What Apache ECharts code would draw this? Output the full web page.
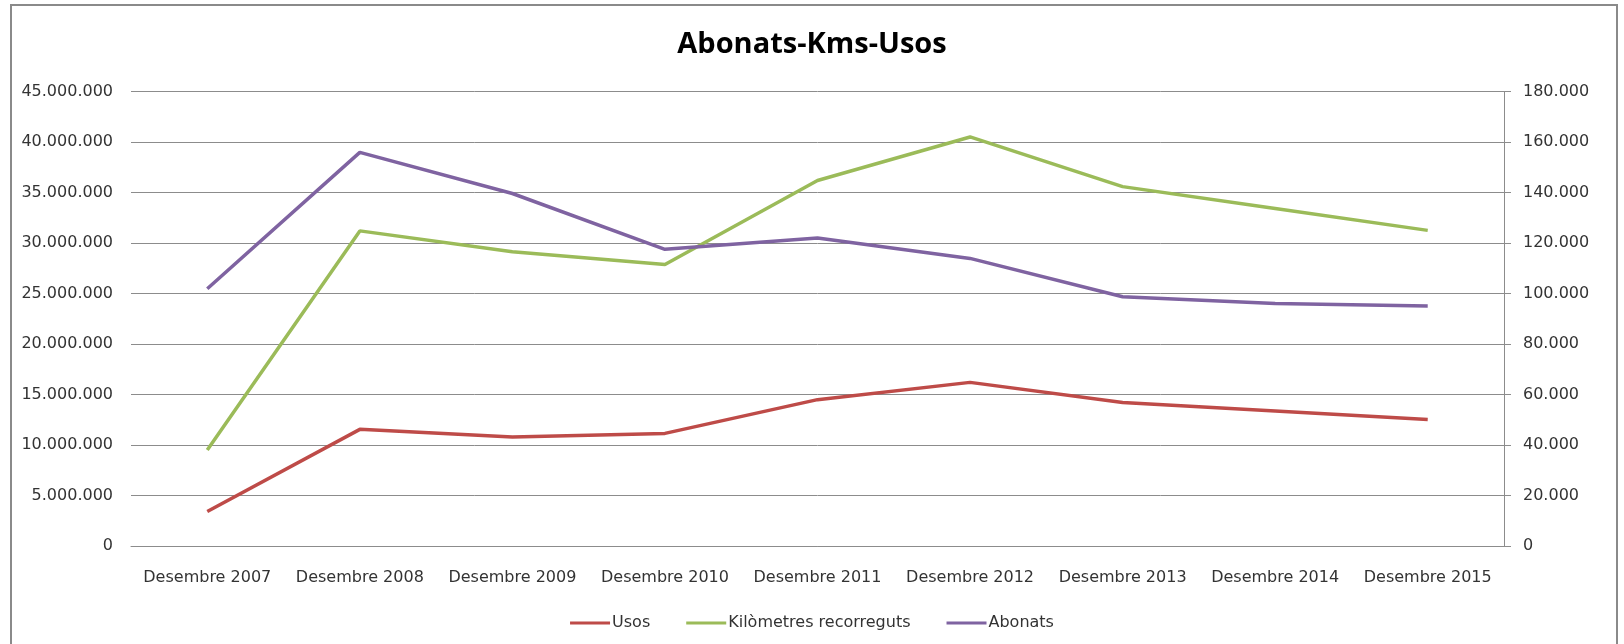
<!DOCTYPE html>
<html>
<head>
<meta charset="utf-8">
<script src="https://cdn.jsdelivr.net/npm/echarts@6/dist/echarts.min.js"></script>
<style>
  html, body { margin: 0; padding: 0; background: #fff; }
  #chart { width: 1624px; height: 644px; }
</style>
</head>
<body>
<div id="chart"></div>
<script>
const titleText = 'Abonats-Kms-Usos';
const categories = ['Desembre 2007', 'Desembre 2008', 'Desembre 2009', 'Desembre 2010', 'Desembre 2011', 'Desembre 2012', 'Desembre 2013', 'Desembre 2014', 'Desembre 2015'];
const seriesNames = ['Usos', 'Kilòmetres recorreguts', 'Abonats'];
const usos = [3420000, 11550000, 10800000, 11150000, 14490000, 16200000, 14210000, 13370000, 12520000];
const kms = [9500000, 31200000, 29130000, 27880000, 36190000, 40500000, 35580000, 33420000, 31250000];
const abonats = [101900, 155900, 139600, 117500, 122000, 113900, 98700, 96050, 95050];
const leftTicks = [0, 45000000, 5000000];   // min, max, interval
const rightTicks = [0, 180000, 20000];      // min, max, interval

const FONT = 'DejaVu Sans';
const colors = ['#BE4B48', '#9BBB59', '#7F63A1'];
const fmt = v => String(v).replace(/\B(?=(\d{3})+(?!\d))/g, '.');

const chart = echarts.init(document.getElementById('chart'), null, { renderer: 'canvas' });
chart.setOption({
  animation: false,
  backgroundColor: '#fff',
  color: colors,
  graphic: [{
    type: 'rect',
    shape: { x: 11, y: 5, width: 1606, height: 700 },
    style: { fill: 'none', stroke: '#8a8a8a', lineWidth: 2 },
    silent: true
  }],
  title: {
    text: titleText,
    left: 'center',
    top: 25,
    textStyle: { fontFamily: 'Open Sans', fontWeight: 'bold', fontSize: 29, color: '#000' }
  },
  grid: { left: 131, right: 120, top: 91.5, bottom: 98, containLabel: false },
  legend: {
    data: seriesNames,
    top: 610,
    left: 'center',
    icon: 'rect',
    itemWidth: 40,
    itemHeight: 3,
    itemGap: 36,
    textStyle: { fontFamily: FONT, fontSize: 16, color: '#333', padding: [0, 0, 0, -3] }
  },
  xAxis: {
    type: 'category',
    data: categories,
    boundaryGap: true,
    axisLine: { show: true, lineStyle: { color: '#8c8c8c', width: 1 } },
    axisTick: { show: false },
    axisLabel: { margin: 24, fontFamily: FONT, fontSize: 16, color: '#333', interval: 0 }
  },
  yAxis: [{
    type: 'value',
    position: 'left',
    min: leftTicks[0], max: leftTicks[1], interval: leftTicks[2],
    axisLine: { show: false },
    axisTick: { show: false },
    splitLine: { show: true, lineStyle: { color: '#8c8c8c', width: 1 } },
    axisLabel: { margin: 18, fontFamily: FONT, fontSize: 16, color: '#333', formatter: fmt }
  }, {
    type: 'value',
    position: 'right',
    min: rightTicks[0], max: rightTicks[1], interval: rightTicks[2],
    axisLine: { show: true, lineStyle: { color: '#8c8c8c', width: 1 } },
    axisTick: { show: true, length: 7, lineStyle: { color: '#8c8c8c' } },
    splitLine: { show: false },
    axisLabel: { margin: 19, fontFamily: FONT, fontSize: 16, color: '#333', formatter: fmt }
  }],
  series: [{
    name: seriesNames[0], type: 'line', yAxisIndex: 0, data: usos,
    symbol: 'none', lineStyle: { width: 3.5, color: colors[0] }, itemStyle: { color: colors[0] }
  }, {
    name: seriesNames[1], type: 'line', yAxisIndex: 0, data: kms,
    symbol: 'none', lineStyle: { width: 3.5, color: colors[1] }, itemStyle: { color: colors[1] }
  }, {
    name: seriesNames[2], type: 'line', yAxisIndex: 1, data: abonats,
    symbol: 'none', lineStyle: { width: 3.5, color: colors[2] }, itemStyle: { color: colors[2] }
  }]
});
</script>
</body>
</html>
